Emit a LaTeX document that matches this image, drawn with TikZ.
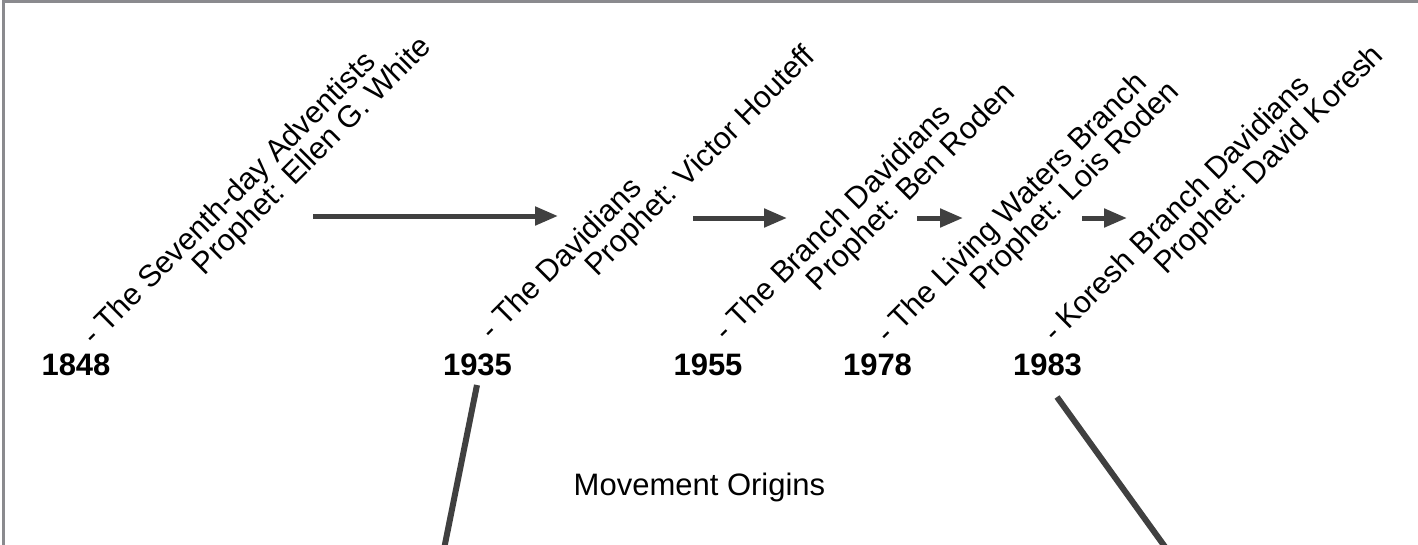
\documentclass[tikz,border=0pt]{standalone}
\usepackage{fontspec}
\setmainfont{Liberation Sans}
\usetikzlibrary{arrows.meta}
\definecolor{linegray}{RGB}{64,64,64}
\definecolor{framegray}{RGB}{138,138,142}
\tikzset{
  year/.style={font=\fontsize{31}{36}\selectfont\bfseries, inner sep=0pt},
  lab/.style={font=\fontsize{30.5}{36}\selectfont, rotate=45, anchor=base, inner sep=0pt},
  title/.style={font=\fontsize{31}{36}\selectfont, inner sep=0pt, anchor=base},
  arr/.style={draw=linegray, line width=5pt, -{Triangle[length=23pt,width=18pt]}, fill=linegray},
  conn/.style={draw=linegray, line width=6pt},
  frame/.style={draw=framegray, line width=3pt}
}
\begin{document}
\begin{tikzpicture}[x=1pt,y=-1pt]
\useasboundingbox (0,0) rectangle (1418,544);
\clip (0,0) rectangle (1418,544);
\fill[white] (0,0) rectangle (1418,544);
\draw[frame] (3.3,1.3) rectangle (1440,570);

% years
\node[year] (y1848) at (76,365) {1848};
\node[year] (y1935) at (477.5,365) {1935};
\node[year] (y1955) at (708,365) {1955};
\node[year] (y1978) at (877.5,365) {1978};
\node[year] (y1983) at (1047.5,365) {1983};

% rotated labels (anchored at the middle of their baselines)
\node[lab] (g1a) at (235.5,205.5) {- The Seventh-day Adventists};
\node[lab] (g1b) at (318.5,162.5) {Prophet: Ellen G. White};
\node[lab] (g2a) at (568,265.5) {- The Davidians};
\node[lab] (g2b) at (706.8,167.8) {Prophet: Victor Houteff};
\node[lab] (g3a) at (839.5,229.5) {- The Branch Davidians};
\node[lab] (g3b) at (917.5,193.5) {Prophet: Ben Roden};
\node[lab] (g4a) at (1018.5,214.5) {- The Living Waters Branch};
\node[lab] (g4b) at (1081.5,192.5) {Prophet: Lois Roden};
\node[lab] (g5a) at (1183.5,215.5) {- Koresh Branch Davidians};
\node[lab] (g5b) at (1275.5,166.5) {Prophet: David Koresh};

% title
\node[title] (mo) at (699.5,495) {Movement Origins};

% arrows
\coordinate (a1s) at (313,216); \coordinate (a1e) at (558,216);
\coordinate (a2s) at (693,218); \coordinate (a2e) at (787,218);
\coordinate (a3s) at (917,218); \coordinate (a3e) at (963,218);
\coordinate (a4s) at (1082,218); \coordinate (a4e) at (1127,218);
\draw[arr] (a1s) -- (a1e);
\draw[arr] (a2s) -- (a2e);
\draw[arr] (a3s) -- (a3e);
\draw[arr] (a4s) -- (a4e);

% connectors from years
\coordinate (c1s) at (477,385); \coordinate (c1e) at (441.8,560);
\coordinate (c2s) at (1057,397); \coordinate (c2e) at (1174.5,560);
\draw[conn] (c1s) -- (c1e);
\draw[conn] (c2s) -- (c2e);
\end{tikzpicture}
\end{document}
